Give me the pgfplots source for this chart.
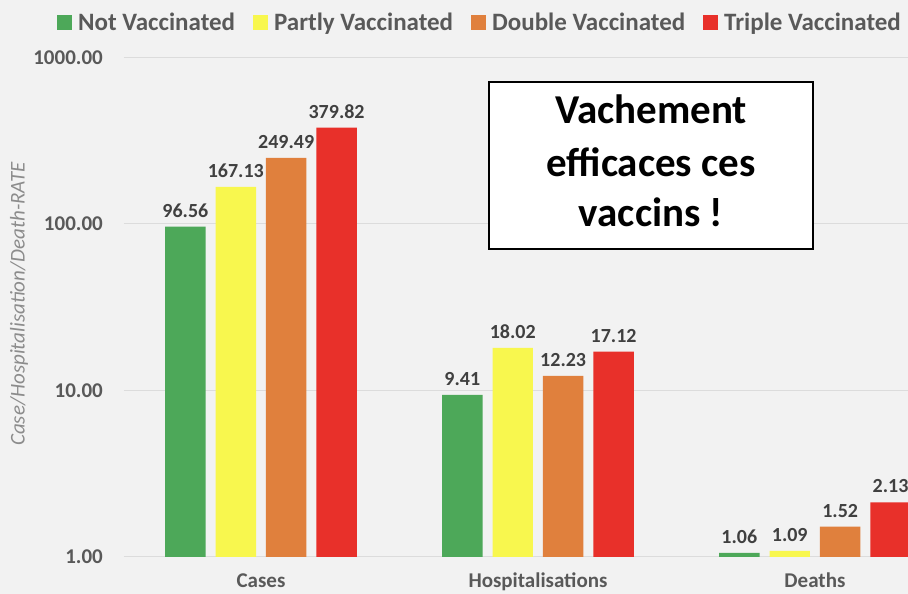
\documentclass[border=0pt]{standalone}
\usepackage{pgfplots}
\pgfplotsset{compat=1.18}
\usepackage{fontspec}
\setmainfont{Carlito}
\definecolor{bgc}{HTML}{F2F2F2}
\definecolor{gridc}{HTML}{DCDCDC}
\definecolor{labc}{HTML}{595959}
\definecolor{valc}{HTML}{404040}
\definecolor{ylabc}{HTML}{8C8C8C}
\definecolor{cgreen}{HTML}{4DA859}
\definecolor{cyellow}{HTML}{F8F74E}
\definecolor{corange}{HTML}{E0803D}
\definecolor{cred}{HTML}{E8302A}
\begin{document}
\begin{tikzpicture}[x=1pt,y=1pt]
\useasboundingbox (0,0) rectangle (908,594);
\clip (0,0) rectangle (908,594);
\fill[bgc] (0,0) rectangle (908,594);
\begin{axis}[
  at={(124pt,37pt)}, anchor=south west,
  scale only axis, width=784pt, height=499.5pt,
  ymode=log, ymin=1, ymax=1000,
  xmin=-0.4946, xmax=2.336,
  axis line style={draw=none},
  major tick length=0pt, minor tick length=0pt,
  ymajorgrids, grid style={draw=gridc, line width=1pt},
  ytick={1,10,100,1000}, yticklabels={1.00,10.00,100.00,1000.00},
  yticklabel style={font=\bfseries\fontsize{21}{24}\selectfont, text=labc, anchor=east, inner sep=0pt, xshift=-21pt},
  xtick={0,1,2}, xticklabels={Cases,Hospitalisations,Deaths},
  xticklabel style={font=\bfseries\fontsize{21}{24}\selectfont, text=labc, anchor=base, inner sep=0pt, yshift=-31pt},
  ylabel={Case/Hospitalisation/Death-RATE},
  ylabel style={at={(axis description cs:-0.134,0.5065)}, anchor=center, font=\itshape\fontsize{21}{24}\selectfont, text=ylabc},
  ybar, bar width=0.146,
  point meta=rawy,
  nodes near coords={\pgfmathprintnumber[fixed,fixed zerofill,precision=2,assume math mode=true]{\pgfplotspointmeta}},
  every node near coord/.append style={font=\bfseries\fontsize{20}{22}\selectfont, text=valc, anchor=south, inner sep=0pt, yshift=9pt},
  legend columns=4,
  legend image code/.code={\fill[#1] (0pt,-6pt) rectangle (15pt,9pt);},
  legend style={draw=none, fill=none, at={(axis description cs:-0.0855,1.067)}, anchor=west,
    font=\bfseries\fontsize{25}{28}\selectfont, text=labc, inner sep=0pt,
    nodes={inner sep=0pt, text height=17pt, text depth=5pt},
    /tikz/every odd column/.append style={column sep=6pt},
    /tikz/every even column/.append style={column sep=18pt}},
]
\addplot+[bar shift=-0.273, fill=cgreen, draw=none] coordinates {(0,96.56) (1,9.41) (2,1.06)};
\addlegendentry{Not Vaccinated}
\addplot+[bar shift=-0.091, fill=cyellow, draw=none] coordinates {(0,167.13) (1,18.02) (2,1.09)};
\addlegendentry{Partly Vaccinated}
\addplot+[bar shift=0.091, fill=corange, draw=none] coordinates {(0,249.49) (1,12.23) (2,1.52)};
\addlegendentry{Double Vaccinated}
\addplot+[bar shift=0.273, fill=cred, draw=none] coordinates {(0,379.82) (1,17.12) (2,2.13)};
\addlegendentry{Triple Vaccinated}
\end{axis}
\draw[black, line width=2pt, fill=white] (489,345) rectangle (813,512);
\begin{scope}[every node/.style={anchor=base, inner sep=0pt, font=\bfseries\fontsize{41}{50}\selectfont, text=black}]
\node at (651,470.7) {Vachement};
\node at (651,417.3) {efficaces ces};
\node at (651,367.3) {vaccins !};
\end{scope}
\end{tikzpicture}
\end{document}
